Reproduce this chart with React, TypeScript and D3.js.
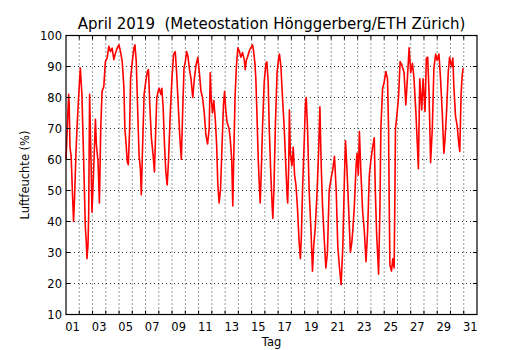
import React from 'react';
import * as d3 from 'd3';

// time in days since 1 April 00:00
const times = [
  0.00, 0.05, 0.14, 0.20, 0.24, 0.30, 0.39, 0.48, 0.57, 0.65, 0.75, 0.85, 0.95, 1.08, 1.20, 1.33, 1.46, 1.53, 1.58, 1.66,
  1.71, 1.78, 1.89, 1.96, 2.09, 2.22, 2.29, 2.42, 2.52, 2.62, 2.72, 2.85, 2.97, 3.10, 3.23, 3.35, 3.48, 3.61, 3.73, 3.86,
  3.99, 4.11, 4.24, 4.37, 4.44, 4.54, 4.62, 4.70, 4.80, 4.87, 5.00, 5.13, 5.20, 5.30, 5.41, 5.51, 5.61, 5.68, 5.76, 5.89,
  6.01, 6.14, 6.22, 6.32, 6.44, 6.57, 6.67, 6.77, 6.85, 6.95, 7.03, 7.15, 7.23, 7.33, 7.43, 7.53, 7.63, 7.73, 7.86, 7.99,
  8.11, 8.24, 8.34, 8.49, 8.59, 8.70, 8.80, 8.90, 9.00, 9.10, 9.20, 9.30, 9.43, 9.56, 9.68, 9.81, 9.94, 10.06,
  10.18, 10.30, 10.43, 10.55, 10.68, 10.80, 10.88, 10.95, 11.05, 11.15, 11.26, 11.36, 11.45, 11.55, 11.65, 11.75, 11.88, 11.96,
  12.05, 12.15, 12.30, 12.40, 12.50, 12.58, 12.64, 12.75, 12.85, 12.96, 13.07, 13.19, 13.32, 13.45, 13.52, 13.60, 13.69, 13.82,
  13.94, 14.07, 14.15, 14.25, 14.32, 14.40, 14.50, 14.60, 14.65, 14.72, 14.82, 14.95, 15.08, 15.15, 15.25, 15.33, 15.45, 15.55,
  15.60, 15.68, 15.80, 15.92, 16.05, 16.10, 16.21, 16.33, 16.46, 16.58, 16.68, 16.72, 16.80, 16.85, 16.92, 17.04, 17.14, 17.24,
  17.34, 17.45, 17.59, 17.68, 17.75, 17.84, 17.96, 18.06, 18.12, 18.22, 18.34, 18.47, 18.59, 18.68, 18.80, 18.92, 19.05, 19.15,
  19.25, 19.35, 19.47, 19.60, 19.72, 19.85, 20.00, 20.13, 20.25, 20.38, 20.50, 20.63, 20.75, 20.88, 21.00, 21.08, 21.18, 21.33,
  21.45, 21.55, 21.63, 21.75, 21.88, 21.95, 22.05, 22.13, 22.25, 22.38, 22.50, 22.63, 22.75, 22.88, 23.00, 23.13, 23.25, 23.33,
  23.43, 23.58, 23.68, 23.75, 23.88, 24.00, 24.13, 24.25, 24.33, 24.38, 24.43, 24.55, 24.65, 24.75, 24.80, 24.85, 24.95, 25.08,
  25.20, 25.33, 25.50, 25.63, 25.75, 25.88, 26.00, 26.13, 26.25, 26.38, 26.50, 26.58, 26.68, 26.83, 26.93, 27.08, 27.18, 27.28,
  27.38, 27.50, 27.63, 27.75, 27.88, 28.00, 28.13, 28.25, 28.38, 28.50, 28.58, 28.70, 28.83, 28.93, 29.08, 29.18, 29.25, 29.38,
  29.50, 29.63, 29.70, 29.80, 29.88, 29.95,
];

// relative humidity in %
const humidity = [
  60, 65, 75, 81, 78, 64, 61, 50, 40, 48, 62, 72, 80, 89.5, 81, 60, 38, 33.5, 28, 32.5,
  42, 81, 59, 43, 57, 73, 65, 59, 46, 70, 82, 83.5, 91.6, 92.7, 96.5, 94.8, 95.9, 92.2, 94.3, 95.9,
  97, 94.8, 91.6, 83, 70, 64.7, 59.4, 58.3, 70, 86, 91.6, 96, 97, 91.6, 75.5, 61.5, 57, 48.6, 61.5, 81,
  85, 88.4, 89, 77.6, 67, 61.5, 56, 70, 80, 82, 83, 81, 83, 76.6, 64.7, 56, 51.8, 59.4, 74.4, 86,
  93.8, 94.8, 88.4, 75.5, 67, 60, 75.5, 89.5, 91.6, 94.8, 93.2, 89.5, 86, 80, 86, 90.5, 93, 88,
  82, 80, 75, 68, 65, 70, 88, 80, 75, 79, 73, 65, 52, 46, 50, 62, 78, 82,
  76, 72, 70, 66, 60, 45, 58, 80, 90, 96, 95, 93, 94.5, 92, 89, 92, 93, 95,
  96, 97, 95, 91, 86, 75, 60, 50, 46, 55, 70, 85, 91, 91.5, 85, 70, 55, 45,
  41, 50, 72, 88, 93, 94, 90, 80, 70, 58, 48, 46, 58, 76, 62, 58, 64, 55,
  52, 45, 33, 28, 35, 50, 65, 78, 80, 70, 50, 38, 24, 32, 38, 48, 62, 77,
  58, 45, 35, 25, 30, 50, 54, 57, 61, 50, 32, 25, 19.6, 32, 54, 66, 58, 43,
  30, 33, 37, 45, 58, 62, 55, 69, 55, 43, 37, 27, 37, 55, 60, 64, 67, 50,
  36, 23, 45, 70, 83, 85, 88.4, 86, 70, 45, 26, 24, 28, 25, 45, 70, 74, 80,
  91.6, 90.5, 88, 77.6, 86, 96, 88, 91, 86, 76, 65, 57, 86, 76, 86, 75.5, 92.7, 93,
  82, 59, 70, 89.5, 94, 92, 94, 86, 75, 62, 66, 75, 88, 93, 90, 92.7, 84, 74,
  71, 65, 62.6, 81, 87, 89.5,
];

const yTicks = [10, 20, 30, 40, 50, 60, 70, 80, 90, 100];
const dayLabels = ['01', '03', '05', '07', '09', '11', '13', '15', '17', '19', '21', '23', '25', '27', '29', '31'];
const dayBoundaries = d3.range(1, 31);
const title = 'April 2019  (Meteostation Hönggerberg/ETH Zürich)';
const yLabel = 'Luftfeuchte (%)';
const xLabel = 'Tag';

export default function App() {
  const W = 530;
  const H = 350;
  const left = 66, right = 477, top = 35.5, bottom = 314.5;
  const x = d3.scaleLinear().domain([0, 31]).range([left, right]);
  const y = d3.scaleLinear().domain([10, 100]).range([bottom, top]);
  const line = d3
    .line<number>()
    .x((_, i) => x(times[i]))
    .y((d) => y(d));
  const font = 'DejaVu Sans, sans-serif';
  const tickLen = 4;

  return (
    <svg
      width={W}
      height={H}
      style={{ position: 'absolute', left: 0, top: 0, background: '#fff' }}
      fontFamily={font}
    >
      <rect x={0} y={0} width={W} height={H} fill="#fff" />
      {/* grid */}
      <g stroke="#000" strokeWidth={0.8} strokeDasharray="1,3">
        {dayBoundaries.map((d) => (
          <line key={'vg' + d} x1={x(d)} x2={x(d)} y1={top} y2={bottom} />
        ))}
        {yTicks.map((v) => (
          <line key={'hg' + v} x1={left} x2={right} y1={y(v)} y2={y(v)} />
        ))}
      </g>
      {/* data */}
      <path d={line(humidity) || ''} fill="none" stroke="#ff0000" strokeWidth={1.6} strokeLinejoin="round" />
      {/* ticks */}
      <g stroke="#000" strokeWidth={1}>
        {dayBoundaries.map((d) => (
          <g key={'xt' + d}>
            <line x1={x(d)} x2={x(d)} y1={bottom} y2={bottom - tickLen} />
            <line x1={x(d)} x2={x(d)} y1={top} y2={top + tickLen} />
          </g>
        ))}
        {yTicks.map((v) => (
          <g key={'yt' + v}>
            <line x1={left} x2={left + tickLen} y1={y(v)} y2={y(v)} />
            <line x1={right} x2={right - tickLen} y1={y(v)} y2={y(v)} />
          </g>
        ))}
      </g>
      {/* frame */}
      <rect x={left} y={top} width={right - left} height={bottom - top} fill="none" stroke="#000" strokeWidth={1.2} />
      {/* y tick labels */}
      <g fontSize={11.5} fill="#000" textAnchor="end">
        {yTicks.map((v) => (
          <text key={'yl' + v} x={left - 4} y={y(v)} dy="0.36em">
            {v}
          </text>
        ))}
      </g>
      {/* x tick labels */}
      <g fontSize={11.5} fill="#000" textAnchor="middle">
        {dayLabels.map((lab) => (
          <text key={'xl' + lab} x={x(+lab - 0.5)} y={bottom + 16}>
            {lab}
          </text>
        ))}
      </g>
      <text x={(left + right) / 2} y={346} fontSize={11.5} textAnchor="middle">
        {xLabel}
      </text>
      <text
        transform={`translate(29,${(top + bottom) / 2}) rotate(-90)`}
        fontSize={11.5}
        textAnchor="middle"
      >
        {yLabel}
      </text>
      <text x={(left + right) / 2} y={29} fontSize={15} textAnchor="middle" style={{ whiteSpace: 'pre' }}>
        {title}
      </text>
    </svg>
  );
}
